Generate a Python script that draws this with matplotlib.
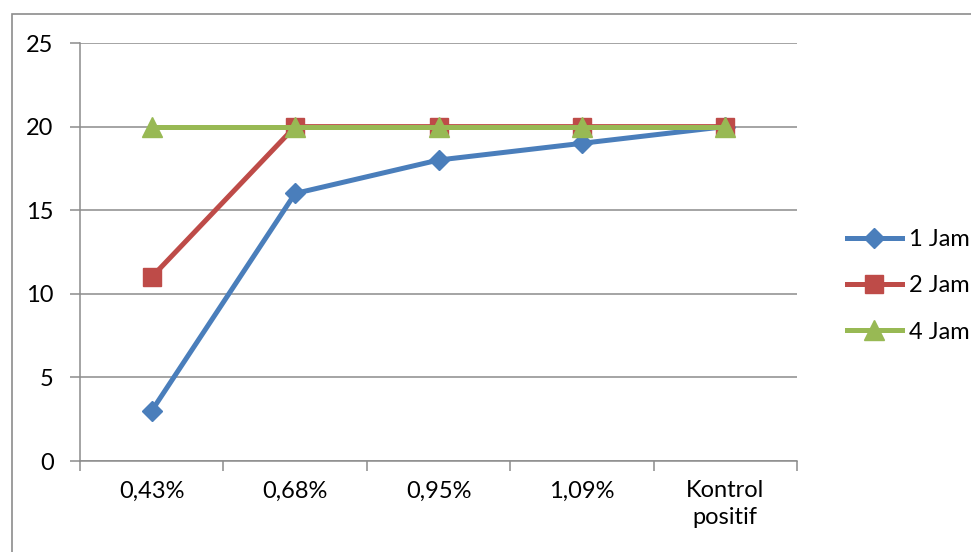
import matplotlib
matplotlib.use('Agg')
from matplotlib import pyplot as plt
from matplotlib.patches import Rectangle

categories = ['0,43%', '0,68%', '0,95%', '1,09%', 'Kontrol\npositif']
jam1 = [3, 16, 18, 19, 20]
jam2 = [11, 20, 20, 20, 20]
jam4 = [20, 20, 20, 20, 20]
yticks = [0, 5, 10, 15, 20, 25]

plt.rcParams['font.family'] = ['Lato', 'DejaVu Sans']
fs = 17

fig = plt.figure(figsize=(9.71, 5.52), dpi=100)
# outer chart border (right and bottom fall outside the picture)
fig.patches.append(Rectangle((12 / 971, -0.1), 1.2, 1.1 - 14 / 552, transform=fig.transFigure,
                             fill=False, edgecolor='#8c8c8c', linewidth=1.2))
ax = fig.add_axes([80 / 971, 1 - 461 / 552, (797 - 80) / 971, (461 - 43) / 552])

x = list(range(len(categories)))
ax.plot(x, jam1, color='#4a7ebb', lw=3.6, marker='D', ms=10, label='1 Jam', zorder=3)
ax.plot(x, jam2, color='#be4b48', lw=3.6, marker='s', ms=12.5, label='2 Jam', zorder=4)
ax.plot(x, jam4, color='#98b954', lw=3.6, marker='^', ms=14, label='4 Jam', zorder=5)

ax.set_xlim(-0.5, len(categories) - 0.5)
ax.set_ylim(0, 25)
ax.set_yticks(yticks)
ax.yaxis.grid(True, color='#8c8c8c', lw=1.1)
ax.set_axisbelow(True)

ax.set_xticks([i - 0.5 for i in range(len(categories) + 1)])
ax.set_xticklabels([])
ax.set_xticks(x, minor=True)
ax.set_xticklabels(categories, minor=True, fontsize=fs, linespacing=1.32)
ax.tick_params(axis='x', which='minor', length=0, pad=14)
ax.tick_params(axis='x', which='major', length=7, color='#8c8c8c', width=1.1)
ax.tick_params(axis='y', length=7, color='#8c8c8c', width=1.1, labelsize=fs, pad=12)

for s in ['top', 'right']:
    ax.spines[s].set_visible(False)
for s in ['left', 'bottom']:
    ax.spines[s].set_color('#8c8c8c')
    ax.spines[s].set_linewidth(1.1)

leg = ax.legend(loc='center left', bbox_to_anchor=(826 / 971, 1 - 286 / 552),
                bbox_transform=fig.transFigure, frameon=False, fontsize=fs,
                handlelength=2.3, handletextpad=0.3, labelspacing=1.07)

fig.savefig('out.png', dpi=100)
